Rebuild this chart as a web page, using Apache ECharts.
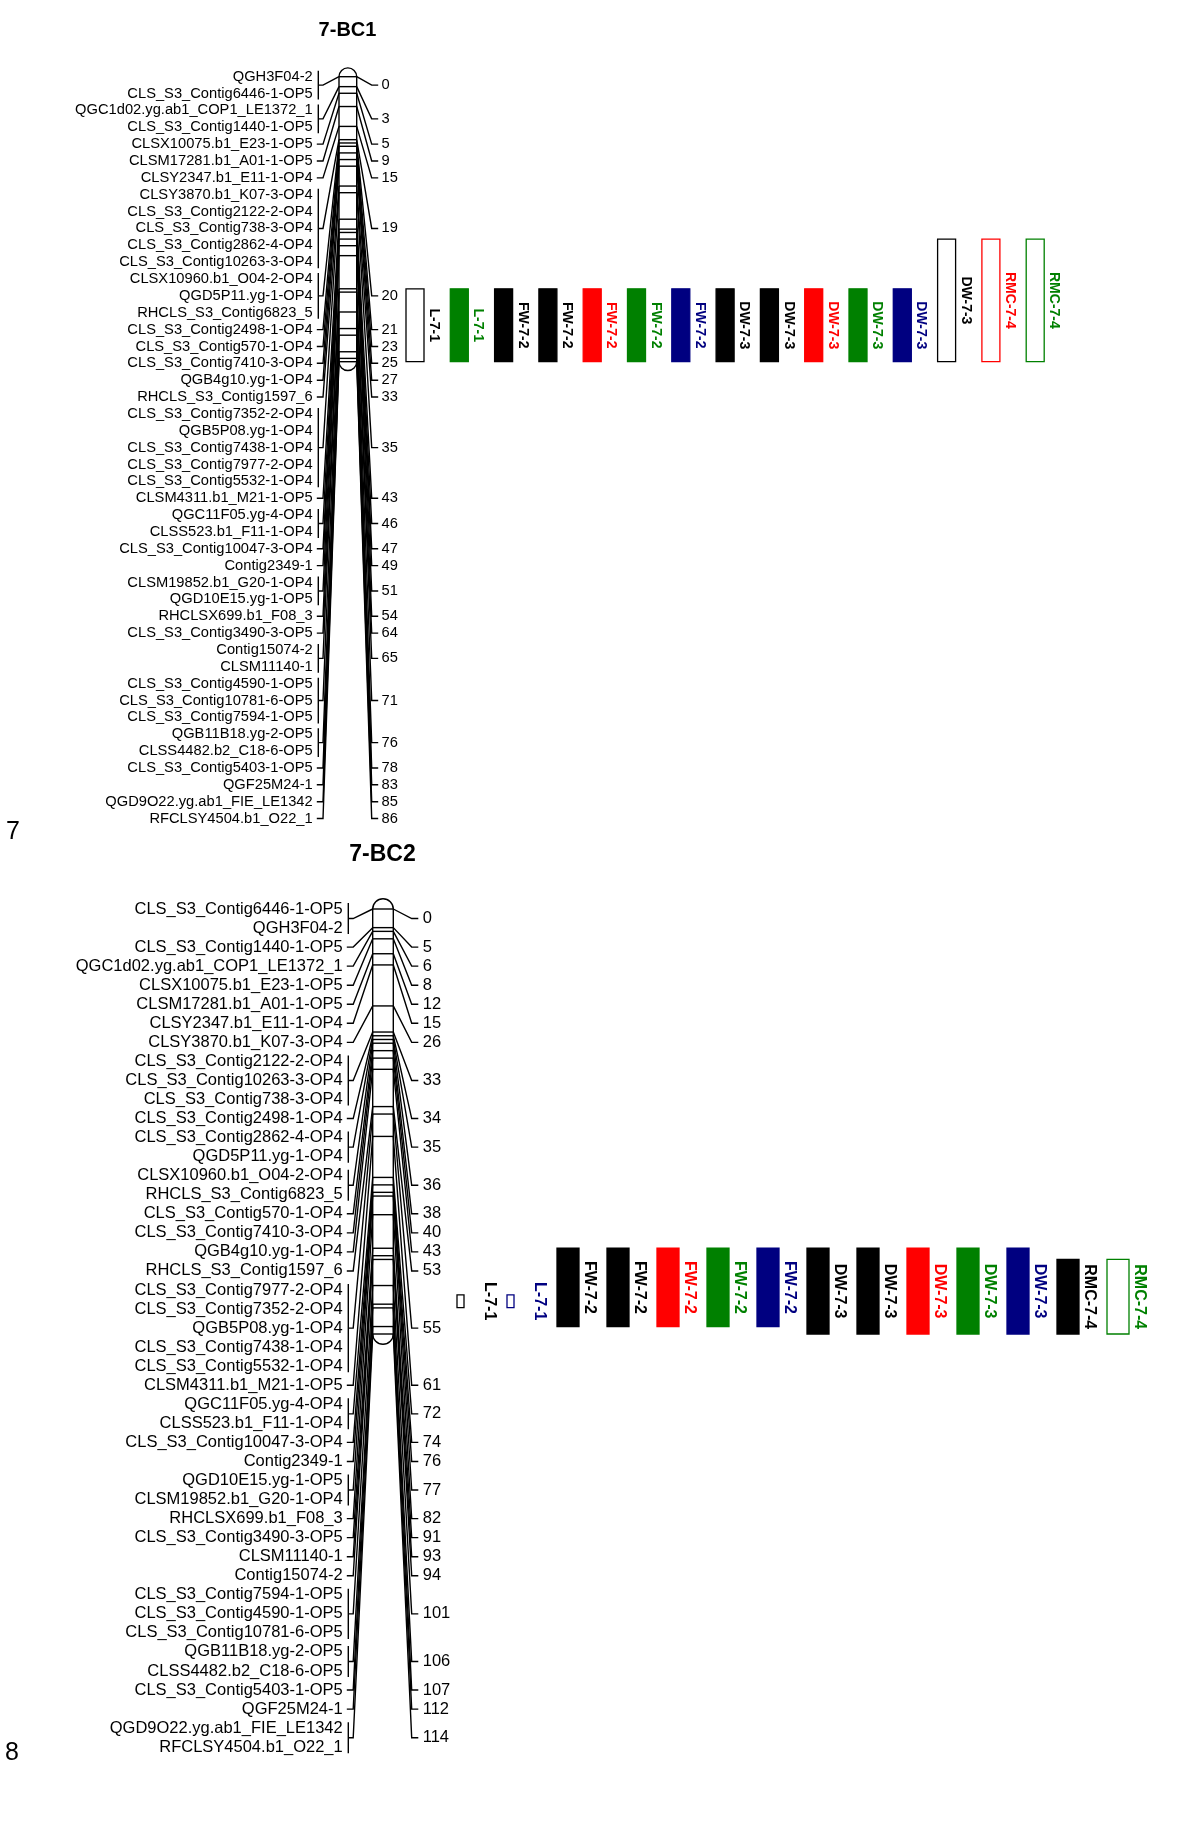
<!DOCTYPE html>
<html>
<head>
<meta charset="utf-8">
<title>Linkage group 7 - BC1 / BC2</title>
<script src="https://cdn.jsdelivr.net/npm/echarts@6/dist/echarts.min.js"></script>
<style>
  html, body { margin: 0; padding: 0; background: #fff; }
  #chart { width: 1200px; height: 1844px; }
</style>
</head>
<body>
<div id="chart"></div>
<script>
// ---- 7-BC1: markers in label order and their position (cM) ----
const bc1Markers = [
  'QGH3F04-2', 'CLS_S3_Contig6446-1-OP5', 'QGC1d02.yg.ab1_COP1_LE1372_1', 'CLS_S3_Contig1440-1-OP5',
  'CLSX10075.b1_E23-1-OP5', 'CLSM17281.b1_A01-1-OP5', 'CLSY2347.b1_E11-1-OP4', 'CLSY3870.b1_K07-3-OP4',
  'CLS_S3_Contig2122-2-OP4', 'CLS_S3_Contig738-3-OP4', 'CLS_S3_Contig2862-4-OP4', 'CLS_S3_Contig10263-3-OP4',
  'CLSX10960.b1_O04-2-OP4', 'QGD5P11.yg-1-OP4', 'RHCLS_S3_Contig6823_5', 'CLS_S3_Contig2498-1-OP4',
  'CLS_S3_Contig570-1-OP4', 'CLS_S3_Contig7410-3-OP4', 'QGB4g10.yg-1-OP4', 'RHCLS_S3_Contig1597_6',
  'CLS_S3_Contig7352-2-OP4', 'QGB5P08.yg-1-OP4', 'CLS_S3_Contig7438-1-OP4', 'CLS_S3_Contig7977-2-OP4',
  'CLS_S3_Contig5532-1-OP4', 'CLSM4311.b1_M21-1-OP5', 'QGC11F05.yg-4-OP4', 'CLSS523.b1_F11-1-OP4',
  'CLS_S3_Contig10047-3-OP4', 'Contig2349-1', 'CLSM19852.b1_G20-1-OP4', 'QGD10E15.yg-1-OP5',
  'RHCLSX699.b1_F08_3', 'CLS_S3_Contig3490-3-OP5', 'Contig15074-2', 'CLSM11140-1',
  'CLS_S3_Contig4590-1-OP5', 'CLS_S3_Contig10781-6-OP5', 'CLS_S3_Contig7594-1-OP5', 'QGB11B18.yg-2-OP5',
  'CLSS4482.b2_C18-6-OP5', 'CLS_S3_Contig5403-1-OP5', 'QGF25M24-1', 'QGD9O22.yg.ab1_FIE_LE1342',
  'RFCLSY4504.b1_O22_1'
]
const bc1Cm = [
  0, 0, 3, 3, 5, 9, 15, 19, 19, 19, 19, 19, 20, 20, 20, 21, 23, 25, 27, 33,
  35, 35, 35, 35, 35, 43, 46, 46, 47, 49, 51, 51, 54, 64, 65, 65, 71, 71, 71, 76,
  76, 78, 83, 85, 86
]
// 7-BC1 QTL intervals (cM)
const bc1QtlNames = ['L-7-1', 'L-7-1', 'FW-7-2', 'FW-7-2', 'FW-7-2', 'FW-7-2', 'FW-7-2',
  'DW-7-3', 'DW-7-3', 'DW-7-3', 'DW-7-3', 'DW-7-3', 'DW-7-3', 'RMC-7-4', 'RMC-7-4']
const bc1QtlStart = [64, 64, 64, 64, 64, 64, 64, 64, 64, 64, 64, 64, 49, 49, 49]
const bc1QtlEnd = [86, 86, 86, 86, 86, 86, 86, 86, 86, 86, 86, 86, 86, 86, 86]

// ---- 7-BC2 ----
const bc2Markers = [
  'CLS_S3_Contig6446-1-OP5', 'QGH3F04-2', 'CLS_S3_Contig1440-1-OP5', 'QGC1d02.yg.ab1_COP1_LE1372_1',
  'CLSX10075.b1_E23-1-OP5', 'CLSM17281.b1_A01-1-OP5', 'CLSY2347.b1_E11-1-OP4', 'CLSY3870.b1_K07-3-OP4',
  'CLS_S3_Contig2122-2-OP4', 'CLS_S3_Contig10263-3-OP4', 'CLS_S3_Contig738-3-OP4', 'CLS_S3_Contig2498-1-OP4',
  'CLS_S3_Contig2862-4-OP4', 'QGD5P11.yg-1-OP4', 'CLSX10960.b1_O04-2-OP4', 'RHCLS_S3_Contig6823_5',
  'CLS_S3_Contig570-1-OP4', 'CLS_S3_Contig7410-3-OP4', 'QGB4g10.yg-1-OP4', 'RHCLS_S3_Contig1597_6',
  'CLS_S3_Contig7977-2-OP4', 'CLS_S3_Contig7352-2-OP4', 'QGB5P08.yg-1-OP4', 'CLS_S3_Contig7438-1-OP4',
  'CLS_S3_Contig5532-1-OP4', 'CLSM4311.b1_M21-1-OP5', 'QGC11F05.yg-4-OP4', 'CLSS523.b1_F11-1-OP4',
  'CLS_S3_Contig10047-3-OP4', 'Contig2349-1', 'QGD10E15.yg-1-OP5', 'CLSM19852.b1_G20-1-OP4',
  'RHCLSX699.b1_F08_3', 'CLS_S3_Contig3490-3-OP5', 'CLSM11140-1', 'Contig15074-2',
  'CLS_S3_Contig7594-1-OP5', 'CLS_S3_Contig4590-1-OP5', 'CLS_S3_Contig10781-6-OP5', 'QGB11B18.yg-2-OP5',
  'CLSS4482.b2_C18-6-OP5', 'CLS_S3_Contig5403-1-OP5', 'QGF25M24-1', 'QGD9O22.yg.ab1_FIE_LE1342',
  'RFCLSY4504.b1_O22_1'
]
const bc2Cm = [
  0, 0, 5, 6, 8, 12, 15, 26, 33, 33, 33, 34, 35, 35, 36, 36, 38, 40, 43, 53,
  55, 55, 55, 55, 55, 61, 72, 72, 74, 76, 77, 77, 82, 91, 93, 94, 101, 101, 101, 106,
  106, 107, 112, 114, 114
]
const bc2QtlNames = ['L-7-1', 'L-7-1', 'FW-7-2', 'FW-7-2', 'FW-7-2', 'FW-7-2', 'FW-7-2',
  'DW-7-3', 'DW-7-3', 'DW-7-3', 'DW-7-3', 'DW-7-3', 'RMC-7-4', 'RMC-7-4']
const bc2QtlStart = [103.5, 103.5, 91, 91, 91, 91, 91, 91, 91, 91, 91, 91, 94, 94]
const bc2QtlEnd = [106.9, 106.9, 112, 112, 112, 112, 112, 114, 114, 114, 114, 114, 114, 114]

// ---- styles ----
const COLORS = { k : '#000000', g : '#008000', r : '#ff0000', b : '#000080' }
// filled colour key, or 'o' + key for an open (outlined) box, 'n' + key for a narrow open box
const bc1QtlStyles = ['ok', 'g', 'k', 'k', 'r', 'g', 'b', 'k', 'k', 'r', 'g', 'b', 'ok', 'or', 'og']
const bc2QtlStyles = ['nk', 'nb', 'k', 'k', 'r', 'g', 'b', 'k', 'k', 'r', 'g', 'b', 'k', 'og']

const FONT = '"Liberation Sans", Arial, Helvetica, sans-serif'

const bc1Layout = { rowGap : 16.86, font : 14.7, textGap : 26.3, bracketGap : 20.7, stubGap : 16,
  rDiag : 15, rStub : 21.5, rText : 24.8 }
const bc2Layout = { rowGap : 19.05, font : 16.5, textGap : 30, bracketGap : 24.4, stubGap : 19.5,
  rDiag : 18.4, rStub : 25, rText : 29.4 }
const bc1Qtl = { barW : 18, narrowW : 18, labelDx : 19, font : 14 }
const bc2Qtl = { barW : 22, narrowW : 7, labelDx : 21, font : 16 }

// consecutive markers sharing a position form one group
const groupMarkers = cm => {
  const groups = []
  cm.forEach( ( v, i ) => {
    const last = groups[groups.length - 1]
    if ( last && last.cm === v ) {
      last.last = i
    } else {
      groups.push( { cm : v, first : i, last : i } )
    }
  } )
  return groups
}

const txt = ( x, y, text, size, color, align, weight, rotation ) => ( {
  type : 'text',
  x, y,
  rotation : rotation || 0,
  silent : true,
  style : {
    text,
    fill : color,
    fontSize : size,
    fontFamily : FONT,
    fontWeight : weight || 'normal',
    align, textAlign : align,
    verticalAlign : 'middle', textVerticalAlign : 'middle'
  }
} )

const mapSeries = ( gi, markers, cm, L ) => {
  const groups = groupMarkers( cm )
  const uniq = groups.map( g => g.cm )
  const line = { stroke : '#000', lineWidth : 1.4, fill : null }
  return [
    // chromosome body
    {
      type : 'custom', xAxisIndex : gi, yAxisIndex : gi, silent : true, z : 2,
      data : [[0, Math.max( ...cm )]],
      renderItem : ( params, api ) => {
        const top = api.coord( [0, 0] )
        const bot = api.coord( [1, api.value( 1 )] )
        const w = bot[0] - top[0]
        const r = w / 2
        return {
          type : 'rect',
          shape : { x : top[0], y : top[1] - r, width : w, height : bot[1] - top[1] + 2 * r, r },
          style : { fill : '#fff', stroke : '#000', lineWidth : 1.4 }
        }
      }
    },
    // marker positions across the chromosome
    {
      type : 'custom', xAxisIndex : gi, yAxisIndex : gi, silent : true, z : 3,
      data : uniq.map( v => [v] ),
      renderItem : ( params, api ) => {
        const a = api.coord( [0, api.value( 0 )] )
        const b = api.coord( [1, api.value( 0 )] )
        return { type : 'line', shape : { x1 : a[0], y1 : a[1], x2 : b[0], y2 : b[1] }, style : line }
      }
    },
    // names, brackets, connectors and cM labels
    {
      type : 'custom', xAxisIndex : gi, yAxisIndex : gi, silent : true, z : 3,
      data : groups.map( g => [g.cm, g.first, g.last] ),
      renderItem : ( params, api ) => {
        const cs = params.coordSys
        const v = api.value( 0 )
        const first = api.value( 1 )
        const last = api.value( 2 )
        const rowY = r => cs.y + r * L.rowGap
        const yMid = ( rowY( first ) + rowY( last ) ) / 2
        const pl = api.coord( [0, v] )
        const pr = api.coord( [1, v] )
        const xB = cs.x - L.bracketGap
        const children = []
        for ( let r = first; r <= last; r++ ) {
          children.push( txt( cs.x - L.textGap, rowY( r ), markers[r], L.font, '#000', 'right' ) )
        }
        if ( last > first ) {
          children.push( { type : 'line', shape : { x1 : xB, y1 : rowY( first ) - 6, x2 : xB, y2 : rowY( last ) + 6 }, style : line } )
        }
        children.push( {
          type : 'polyline',
          shape : { points : [[last > first ? xB : xB - 1.5, yMid], [cs.x - L.stubGap, yMid], pl] },
          style : line
        } )
        children.push( {
          type : 'polyline',
          shape : { points : [pr, [pr[0] + L.rDiag, yMid], [pr[0] + L.rStub, yMid]] },
          style : line
        } )
        children.push( txt( pr[0] + L.rText, yMid, String( v ), L.font, '#000', 'left' ) )
        return { type : 'group', children }
      }
    }
  ]
}

const qtlSeries = ( gi, names, starts, ends, styles, Q ) => ( {
  type : 'custom', xAxisIndex : gi, yAxisIndex : gi, silent : true, z : 3,
  data : names.map( ( n, i ) => [i, starts[i], ends[i]] ),
  renderItem : ( params, api ) => {
    const i = params.dataIndex
    const key = styles[i]
    const open = key.length > 1
    const narrow = key[0] === 'n'
    const color = COLORS[key[key.length - 1]]
    const top = api.coord( [api.value( 0 ), api.value( 1 )] )
    const bot = api.coord( [api.value( 0 ), api.value( 2 )] )
    const w = narrow ? Q.narrowW : Q.barW
    return {
      type : 'group',
      children : [
        {
          type : 'rect',
          shape : { x : top[0] - Q.barW / 2, y : top[1], width : w, height : bot[1] - top[1] },
          style : { fill : open ? '#fff' : color, stroke : color, lineWidth : 1.3 }
        },
        txt( top[0] + Q.labelDx, ( top[1] + bot[1] ) / 2, names[i], Q.font, color, 'center', 'bold', -Math.PI / 2 )
      ]
    }
  }
} )

const chart = echarts.init( document.getElementById( 'chart' ), null, { renderer : 'canvas' } )

const hiddenX = ( gi, min, max ) => ( { type : 'value', gridIndex : gi, min, max, show : false } )
const hiddenY = ( gi, max ) => ( { type : 'value', gridIndex : gi, min : 0, max, inverse : true, show : false } )
const bc1Max = Math.max( ...bc1Cm )
const bc2Max = Math.max( ...bc2Cm )

chart.setOption( {
  backgroundColor : '#fff',
  animation : false,
  grid : [
    { left : 339, top : 76.7, width : 17.7, height : 285, outerBoundsMode : 'none' },
    { left : 392.85, top : 76.7, width : 664.5, height : 285, outerBoundsMode : 'none' },
    { left : 372.7, top : 909, width : 20.6, height : 425, outerBoundsMode : 'none' },
    { left : 443, top : 909, width : 700, height : 425, outerBoundsMode : 'none' }
  ],
  xAxis : [
    hiddenX( 0, 0, 1 ),
    hiddenX( 1, -0.5, bc1QtlNames.length - 0.5 ),
    hiddenX( 2, 0, 1 ),
    hiddenX( 3, -0.5, bc2QtlNames.length - 0.5 )
  ],
  yAxis : [hiddenY( 0, bc1Max ), hiddenY( 1, bc1Max ), hiddenY( 2, bc2Max ), hiddenY( 3, bc2Max )],
  graphic : [
    txt( 347.5, 30, '7-BC1', 20, '#000', 'center', 'bold' ),
    txt( 382.5, 855, '7-BC2', 23, '#000', 'center', 'bold' ),
    txt( 6, 832, '7', 25, '#000', 'left' ),
    txt( 5, 1753, '8', 25, '#000', 'left' )
  ],
  series : [
    ...mapSeries( 0, bc1Markers, bc1Cm, bc1Layout ),
    qtlSeries( 1, bc1QtlNames, bc1QtlStart, bc1QtlEnd, bc1QtlStyles, bc1Qtl ),
    ...mapSeries( 2, bc2Markers, bc2Cm, bc2Layout ),
    qtlSeries( 3, bc2QtlNames, bc2QtlStart, bc2QtlEnd, bc2QtlStyles, bc2Qtl )
  ]
} )
</script>
</body>
</html>
